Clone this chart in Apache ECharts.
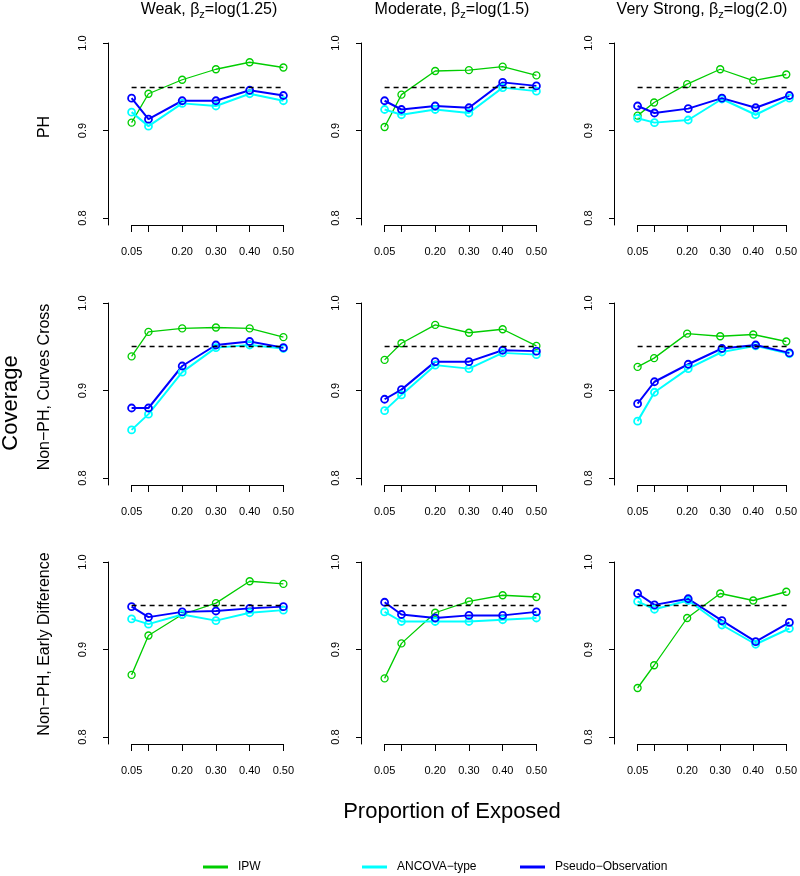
<!DOCTYPE html>
<html>
<head>
<meta charset="utf-8">
<script src="https://cdn.jsdelivr.net/npm/echarts@6/dist/echarts.min.js"></script>
<style>
  html, body { margin: 0; padding: 0; background: #fff; }
  #main { width: 800px; height: 876px; }
</style>
</head>
<body>
<div id="main"></div>
<script>
// x positions (proportion exposed) and axis ticks
var xValues = [0.05, 0.1, 0.2, 0.3, 0.4, 0.5];
var xTickLabels = [0.05, 0.2, 0.3, 0.4, 0.5];
var yTicks = [0.8, 0.9, 1.0];
var nominal = 0.95;

var columnTitles = ['Weak, β{s|z}=log(1.25)', 'Moderate, β{s|z}=log(1.5)', 'Very Strong, β{s|z}=log(2.0)'];
var rowTitles = ['PH', 'Non\u2212PH, Curves Cross', 'Non\u2212PH, Early Difference'];
var methods = ['IPW', 'ANCOVA\u2212type', 'Pseudo\u2212Observation'];
var colors = ['#00CD00', '#00FFFF', '#0000FF'];

// each array: rows = weak, moderate, very strong
var ipwPH = [
  [0.909, 0.942, 0.958, 0.970, 0.978, 0.972],
  [0.904, 0.941, 0.968, 0.969, 0.973, 0.963],
  [0.917, 0.932, 0.953, 0.970, 0.957, 0.964]
];
var ancovaPH = [
  [0.921, 0.905, 0.931, 0.928, 0.942, 0.934],
  [0.924, 0.918, 0.924, 0.920, 0.949, 0.945],
  [0.914, 0.909, 0.912, 0.936, 0.918, 0.937]
];
var pseudoPH = [
  [0.937, 0.913, 0.934, 0.934, 0.946, 0.940],
  [0.934, 0.924, 0.928, 0.926, 0.955, 0.951],
  [0.928, 0.920, 0.925, 0.937, 0.926, 0.940]
];
var ipwCross = [
  [0.939, 0.967, 0.971, 0.972, 0.971, 0.961],
  [0.935, 0.954, 0.975, 0.966, 0.970, 0.951],
  [0.927, 0.937, 0.965, 0.962, 0.964, 0.956]
];
var ancovaCross = [
  [0.855, 0.873, 0.921, 0.949, 0.952, 0.948],
  [0.877, 0.895, 0.929, 0.925, 0.943, 0.941],
  [0.865, 0.898, 0.925, 0.944, 0.951, 0.942]
];
var pseudoCross = [
  [0.880, 0.880, 0.928, 0.952, 0.956, 0.949],
  [0.890, 0.901, 0.933, 0.933, 0.946, 0.945],
  [0.885, 0.910, 0.930, 0.948, 0.952, 0.943]
];
var ipwEarly = [
  [0.871, 0.916, 0.940, 0.953, 0.978, 0.975],
  [0.867, 0.907, 0.942, 0.955, 0.962, 0.960],
  [0.856, 0.882, 0.936, 0.964, 0.956, 0.966]
];
var ancovaEarly = [
  [0.935, 0.929, 0.940, 0.933, 0.942, 0.945],
  [0.943, 0.932, 0.932, 0.932, 0.934, 0.936],
  [0.955, 0.946, 0.956, 0.928, 0.906, 0.924]
];
var pseudoEarly = [
  [0.949, 0.937, 0.943, 0.944, 0.947, 0.949],
  [0.954, 0.940, 0.936, 0.939, 0.939, 0.943],
  [0.964, 0.951, 0.958, 0.933, 0.909, 0.931]
];

var scenarios = [
  [ipwPH, ancovaPH, pseudoPH],
  [ipwCross, ancovaCross, pseudoCross],
  [ipwEarly, ancovaEarly, pseudoEarly]
];

var font = 'Liberation Sans, Arial, sans-serif';
// left edge of each panel's y axis line, and top (y = 1.0) of each row
var colLeft = [108, 361, 614];
var rowTop = [43, 303, 562];
var yAxisGap = 23.6;   // y axis line sits this far left of x = 0.05
var gridW = 151.8, gridH = 182;
var yMin = 0.792, yMax = 1.0;
var titleCenters = [209, 452, 702];

// one grid per series (three stacked grids per panel); the first one carries the axes
var grids = [], xAxes = [], yAxes = [], series = [];
for (var r = 0; r < 3; r++) {
  for (var c = 0; c < 3; c++) {
    for (var m = 0; m < 3; m++) {
      var g = grids.length;
      var showAxes = m === 0;
      grids.push({ left: colLeft[c] + yAxisGap, top: rowTop[r], width: gridW, height: gridH });
      xAxes.push(showAxes ? {
        type: 'value', gridIndex: g, min: xValues[0], max: xValues[xValues.length - 1],
        axisLine: { show: true, onZero: false, lineStyle: { color: '#000' } },
        splitLine: { show: false },
        axisTick: { show: true, customValues: xValues, length: 7, lineStyle: { color: '#000' } },
        axisLabel: {
          customValues: xTickLabels, showMinLabel: true, showMaxLabel: true,
          margin: 21, color: '#000', fontFamily: font, fontSize: 11,
          formatter: function (v) { return v.toFixed(2); }
        }
      } : {
        type: 'value', gridIndex: g, min: xValues[0], max: xValues[xValues.length - 1], show: false
      });
      yAxes.push(showAxes ? {
        type: 'value', gridIndex: g, min: yMin, max: yMax, offset: yAxisGap,
        axisLine: { show: true, onZero: false, lineStyle: { color: '#000' } },
        splitLine: { show: false },
        axisTick: { show: true, customValues: yTicks, length: 5, lineStyle: { color: '#000' } },
        axisLabel: {
          customValues: yTicks, rotate: 90, margin: 20, color: '#000', fontFamily: font, fontSize: 11,
          formatter: function (v) { return v.toFixed(1); }
        }
      } : {
        type: 'value', gridIndex: g, min: yMin, max: yMax, show: false
      });
      var vals = scenarios[r][m][c];
      var s = {
        name: methods[m], type: 'line', xAxisIndex: g, yAxisIndex: g,
        data: xValues.map(function (x, j) { return [x, vals[j]]; }),
        symbol: 'circle', symbolSize: 7,
        lineStyle: { color: colors[m], width: m === 0 ? 1.3 : 2 },
        itemStyle: { color: 'rgba(0,0,0,0)', borderColor: colors[m], borderWidth: m === 0 ? 1.3 : 1.8 },
        emphasis: { disabled: true }
      };
      if (m === 2) {
        s.markLine = {
          silent: true, symbol: 'none', label: { show: false }, animation: false,
          lineStyle: { color: '#000', width: 1.4, type: [5, 4] },
          data: [[{ coord: [xValues[0], nominal] }, { coord: [xValues[xValues.length - 1], nominal] }]]
        };
      }
      series.push(s);
    }
  }
}

var titles = columnTitles.map(function (t, c) {
  return {
    text: t, left: titleCenters[c], top: 0, textAlign: 'center', padding: 0,
    textStyle: {
      fontFamily: font, fontSize: 16, fontWeight: 'normal', color: '#000', lineHeight: 20,
      rich: { s: { fontFamily: font, fontSize: 11, lineHeight: 20, verticalAlign: 'bottom', color: '#000' } }
    }
  };
});

var rowLabelY = [127, 387, 644];
var graphics = rowTitles.map(function (t, r) {
  return {
    type: 'text', x: 45, y: rowLabelY[r], rotation: Math.PI / 2,
    style: { text: t, fontFamily: font, fontSize: 16, fill: '#000', textAlign: 'center', textVerticalAlign: 'middle' }
  };
});
graphics.push({
  type: 'text', x: 11, y: 403, rotation: Math.PI / 2,
  style: { text: 'Coverage', fontFamily: font, fontSize: 22, fill: '#000', textAlign: 'center', textVerticalAlign: 'middle' }
});
graphics.push({
  type: 'text', x: 452, y: 812,
  style: { text: 'Proportion of Exposed', fontFamily: font, fontSize: 22, fill: '#000', textAlign: 'center', textVerticalAlign: 'middle' }
});

var legendLeft = [203, 362, 520];
var legends = methods.map(function (name, m) {
  return {
    left: legendLeft[m], top: 861, padding: 0, icon: 'rect', itemWidth: 25, itemHeight: 3,
    selectedMode: false,
    data: [{ name: name, itemStyle: { color: colors[m], borderWidth: 0 } }],
    textStyle: { fontFamily: font, fontSize: 12, color: '#000', padding: [0, 0, 0, 5] }
  };
});

var chart = echarts.init(document.getElementById('main'));
chart.setOption({
  animation: false,
  title: titles,
  legend: legends,
  grid: grids,
  xAxis: xAxes,
  yAxis: yAxes,
  graphic: graphics,
  series: series
});
</script>
</body>
</html>
